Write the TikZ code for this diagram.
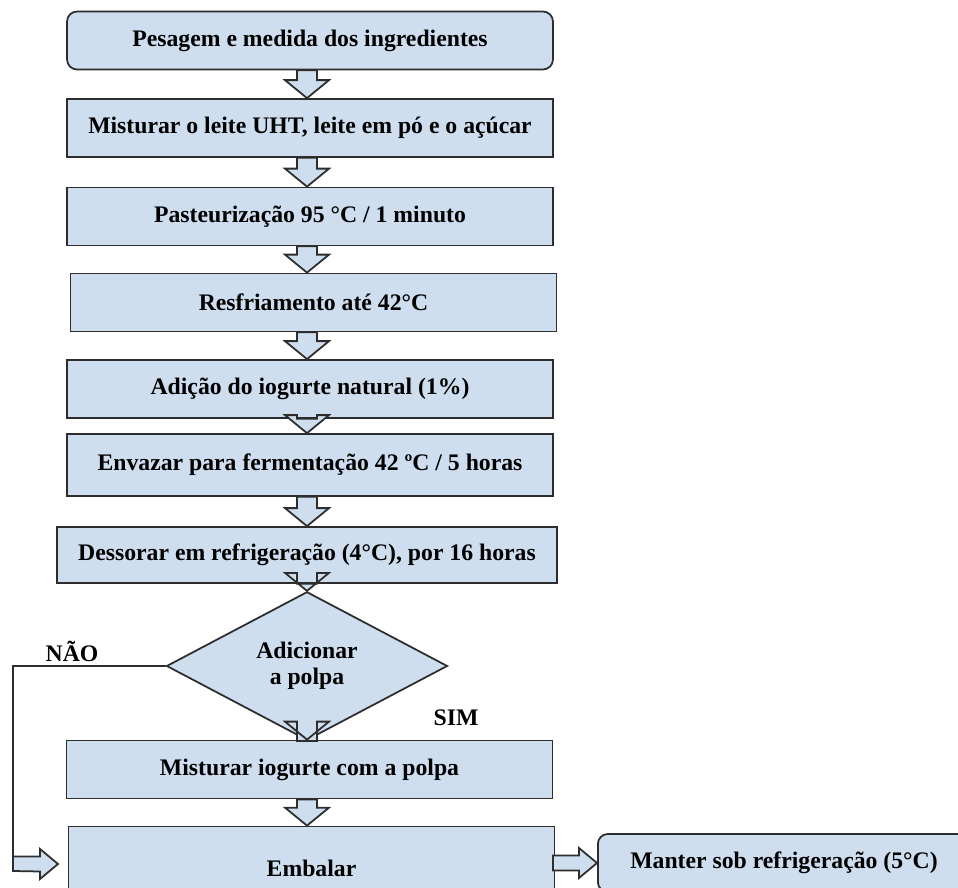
\documentclass[tikz,border=0pt]{standalone}
\usepackage{fontspec}
\setmainfont{Liberation Serif}
\usetikzlibrary{calc,shapes.geometric}

\definecolor{boxblue}{RGB}{206,222,239}
\definecolor{edgegray}{RGB}{45,45,45}

\tikzset{
  stepbox/.style={draw=edgegray, line width=1pt, fill=boxblue,
    minimum width=9.72cm, minimum height=1.16cm, inner sep=0pt,
    font=\bfseries\fontsize{13.5}{14}\selectfont},
  roundbox/.style={stepbox, rounded corners=0.2cm},
  decbox/.style={stepbox, diamond, minimum width=5.62cm, minimum height=2.12cm,
    align=center, font=\bfseries\fontsize{13.5}{14.5}\selectfont},
  blockarrow/.style={draw=edgegray, line width=1pt, fill=boxblue, line join=miter},
  answer/.style={font=\bfseries\fontsize{13.5}{14}\selectfont}
}

\begin{document}
\begin{tikzpicture}[x=0.02cm, y=-0.02cm]

    % Page frame (pixel units, y downwards)
    \clip (0,0) rectangle (958,888);
    \fill[white] (0,0) rectangle (958,888);

    % Axis of the vertical arrows
    \coordinate (ax) at (307,0);

    % Process steps
    \node[roundbox] (pes) at (310,40.5) {Pesagem e medida dos ingredientes};
    \node[stepbox] (mis) at (310,128) {Misturar o leite UHT, leite em pó e o açúcar};
    \node[stepbox] (pas) at (310,216.5) {Pasteurização 95 °C / 1 minuto};
    \node[stepbox] (res) at (313.5,302.5) {Resfriamento até 42°C};
    \node[stepbox] (adi) at (310,389) {Adição do iogurte natural (1\%)};
    \node[stepbox, minimum height=1.24cm] (env) at (310,465) {Envazar para fermentação 42 ºC / 5 horas};
    \node[stepbox, minimum width=10cm, minimum height=1.12cm] (des) at (307,555) {Dessorar em refrigeração (4°C), por 16 horas};

    % Decision
    \node[decbox] (dec) at (307,666) {Adicionar\\a polpa};

    % Steps after the decision
    \node[stepbox] (mist) at (309.5,769.5) {Misturar iogurte com a polpa};
    \node[stepbox, minimum height=1.66cm] (emb) at (311.5,868) {};
    \node[answer] at (311.5,868) {Embalar};
    \node[roundbox, minimum width=7.56cm, minimum height=1.16cm, anchor=west] (man) at (597,863) {};
    \node[answer] at (784,863) {Manter sob refrigeração (5°C)};

    % Block arrows down the main line
    \foreach \a/\b in {pes/mis, mis/pas, pas/res, res/adi, adi/env, env/des, des/dec, dec/mist, mist/emb}
      \draw[blockarrow] ($(\a.south -| ax)+(-10,0)$) -- ($(\b.north -| ax)+(-10,-18)$)
        -- ($(\b.north -| ax)+(-22,-18)$) -- (\b.north -| ax)
        -- ($(\b.north -| ax)+(22,-18)$) -- ($(\b.north -| ax)+(10,-18)$)
        -- ($(\a.south -| ax)+(10,0)$) -- cycle;

    % Branch labels
    \node[answer] at (72,651) {NÃO};
    \node[answer] at (456,718) {SIM};

    % NAO branch: line to the left and down
    \coordinate (naocorner) at (13,871);
    \draw[edgegray, line width=1pt] (dec.west) -| (naocorner);

    % Block arrow into Embalar
    \coordinate (naotip) at (58,864);
    \draw[blockarrow] (13,856.5) -- (40,856.5) -- (40,849) -- (naotip)
      -- (40,879) -- (40,871.5) -- (naocorner) -- cycle;

    % Block arrow from Embalar to the last step
    \coordinate (mantip) at (597,863);
    \draw[blockarrow] (553,855.5) -- (579,855.5) -- (579,848) -- (mantip)
      -- (579,878) -- (579,870.5) -- (553,870.5) -- cycle;

\end{tikzpicture}
\end{document}
